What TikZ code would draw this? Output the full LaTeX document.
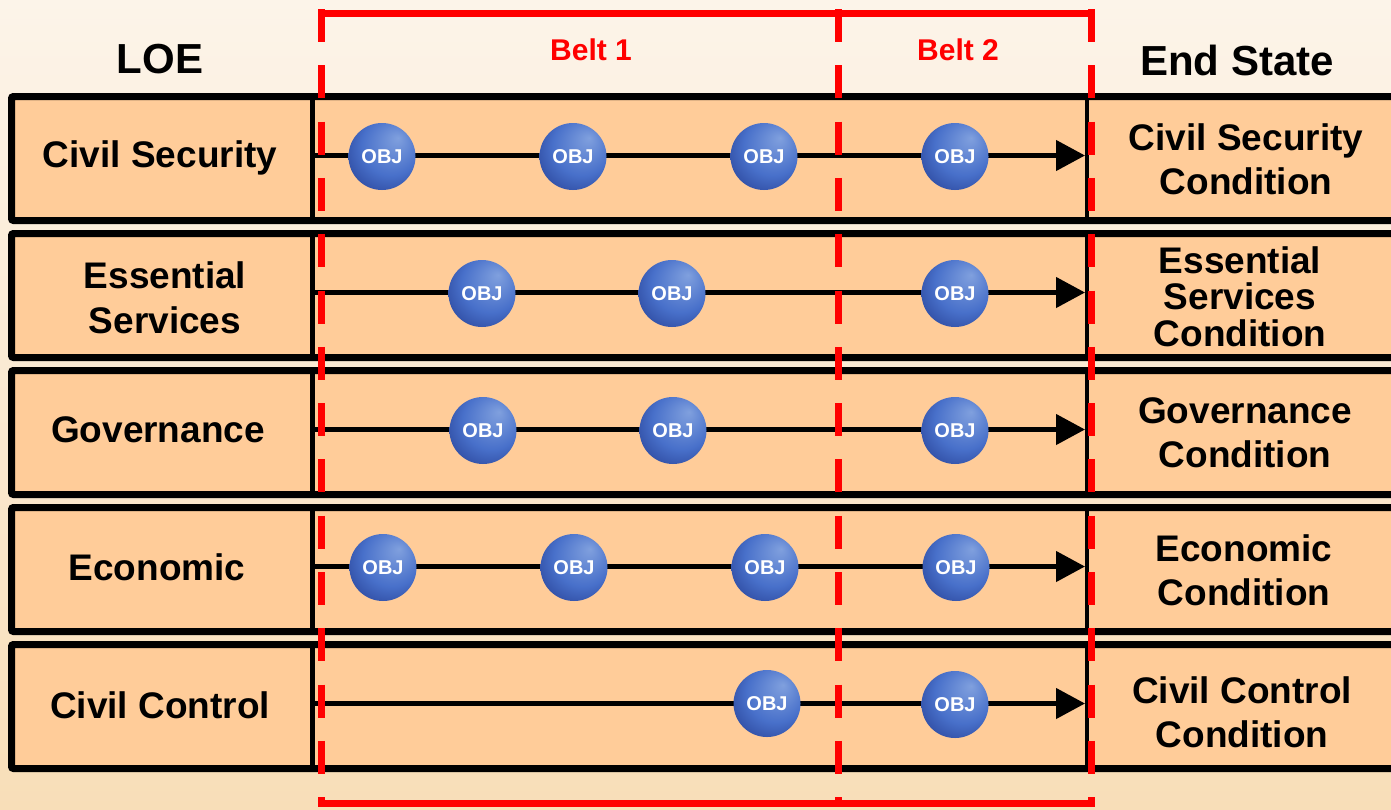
\documentclass[tikz,border=0pt]{standalone}
\usepackage{fontspec}
\setmainfont{Liberation Sans}
\usetikzlibrary{arrows.meta}

\definecolor{rowfill}{RGB}{255,204,153}
\definecolor{bgtop}{RGB}{252,244,233}
\definecolor{bgbottom}{RGB}{248,222,184}
\definecolor{beltred}{RGB}{255,0,0}
\definecolor{objlight}{RGB}{128,160,222}
\definecolor{objmid}{RGB}{72,112,202}
\definecolor{objdark}{RGB}{28,48,130}
\pgfdeclareradialshading{objball}{\pgfpoint{12bp}{14bp}}{color(0bp)=(objlight); color(22bp)=(objmid); color(44bp)=(objdark); color(50bp)=(objdark)}

\tikzset{
	rowbox/.style={fill=rowfill, draw=black, line width=7pt, rounded corners=2pt},
	divider/.style={draw=black, line width=4.5pt},
	effort/.style={draw=black, line width=4.5pt, -{Triangle[length=29pt,width=30pt]}},
	obj/.style={circle, minimum size=67pt, inner sep=0pt, shading=objball, text=white, font=\fontsize{20}{20}\selectfont\bfseries},
	loelabel/.style={font=\fontsize{37}{45}\selectfont\bfseries, align=center},
	statelabel/.style={font=\fontsize{37}{44}\selectfont\bfseries, align=center},
	header/.style={font=\fontsize{42}{42}\selectfont\bfseries},
	beltlabel/.style={text=beltred, font=\fontsize{30}{30}\selectfont\bfseries},
	beltline/.style={draw=beltred, line width=7pt},
	beltdash/.style={beltline, dash pattern=on 33pt off 23.3pt}
}

\begin{document}
\begin{tikzpicture}[x=1pt,y=-1pt]
	%BACKGROUND
	\useasboundingbox (0,0) rectangle (1391,809);
	\shade[top color=bgtop, bottom color=bgbottom] (0,0) rectangle (1391,809);

	%ROWS
	\draw[rowbox] (11.5,96.5) rectangle (1410,220.5);
	\draw[rowbox] (11.5,233.5) rectangle (1410,357.5);
	\draw[rowbox] (11.5,370.5) rectangle (1410,494.5);
	\draw[rowbox] (11.5,507.5) rectangle (1410,631.5);
	\draw[rowbox] (11.5,644.5) rectangle (1410,768.5);
	\draw[divider] (312.5,96.5) -- (312.5,220.5) (1087,96.5) -- (1087,220.5);
	\draw[divider] (312.5,233.5) -- (312.5,357.5) (1087,233.5) -- (1087,357.5);
	\draw[divider] (312.5,370.5) -- (312.5,494.5) (1087,370.5) -- (1087,494.5);
	\draw[divider] (312.5,507.5) -- (312.5,631.5) (1087,507.5) -- (1087,631.5);
	\draw[divider] (312.5,644.5) -- (312.5,768.5) (1087,644.5) -- (1087,768.5);

	%LINES OF EFFORT
	\coordinate (s1) at (312.5,155.5);  \coordinate (e1) at (1085,155.5);
	\coordinate (s2) at (312.5,292.5);  \coordinate (e2) at (1085,292.5);
	\coordinate (s3) at (312.5,429.5);  \coordinate (e3) at (1085,429.5);
	\coordinate (s4) at (312.5,566.5);  \coordinate (e4) at (1085,566.5);
	\coordinate (s5) at (312.5,703.5);  \coordinate (e5) at (1085,703.5);
	\draw[effort] (s1) -- (e1);
	\draw[effort] (s2) -- (e2);
	\draw[effort] (s3) -- (e3);
	\draw[effort] (s4) -- (e4);
	\draw[effort] (s5) -- (e5);

	%BELTS
	\draw[beltline] (318,13.5) -- (1094.5,13.5);
	\draw[beltline] (318,803) -- (1094.5,803);
	\draw[beltdash] (321.5,9) -- (321.5,803);
	\draw[beltdash] (838,9) -- (838,803);
	\draw[beltdash] (1091,9) -- (1091,803);
	\node[beltlabel] (belt1) at (591,50) {Belt 1};
	\node[beltlabel] (belt2) at (958,50) {Belt 2};

	%HEADERS
	\node[header] (loe) at (160,59) {LOE};
	\node[header] (endstate) at (1237,60) {End State};

	%LOE LABELS
	\node[loelabel] (civsec) at (160,157.5) {Civil Security};
	\node[loelabel] (essserv) at (165,297.5) {Essential\\Services};
	\node[loelabel] (gov) at (158,429.5) {Governance};
	\node[loelabel] (econ) at (157,567.5) {Economic};
	\node[loelabel] (civcon) at (160,705.5) {Civil Control};

	%END STATES
	\node[statelabel] (civseccond) at (1246,159.5) {Civil Security\\Condition};
	\node[statelabel, font=\fontsize{37}{36.5}\selectfont\bfseries] (essservcond) at (1240,296.5) {Essential\\Services\\Condition};
	\node[statelabel] (govcond) at (1245,433) {Governance\\Condition};
	\node[statelabel] (econcond) at (1244,570.5) {Economic\\Condition};
	\node[statelabel] (civconcond) at (1242,712) {Civil Control\\Condition};

	%OBJECTIVES
	\node[obj] (o11) at (382,156.5) {OBJ};
	\node[obj] (o12) at (573,156.5) {OBJ};
	\node[obj] (o13) at (764,156.5) {OBJ};
	\node[obj] (o14) at (955,156.5) {OBJ};
	\node[obj] (o21) at (482,293.5) {OBJ};
	\node[obj] (o22) at (672,293.5) {OBJ};
	\node[obj] (o23) at (955,293.5) {OBJ};
	\node[obj] (o31) at (483,430.5) {OBJ};
	\node[obj] (o32) at (673,430.5) {OBJ};
	\node[obj] (o33) at (955,430.5) {OBJ};
	\node[obj] (o41) at (383,567.5) {OBJ};
	\node[obj] (o42) at (574,567.5) {OBJ};
	\node[obj] (o43) at (765,567.5) {OBJ};
	\node[obj] (o44) at (956,567.5) {OBJ};
	\node[obj] (o51) at (767,703.5) {OBJ};
	\node[obj] (o52) at (955,704.5) {OBJ};
\end{tikzpicture}
\end{document}
